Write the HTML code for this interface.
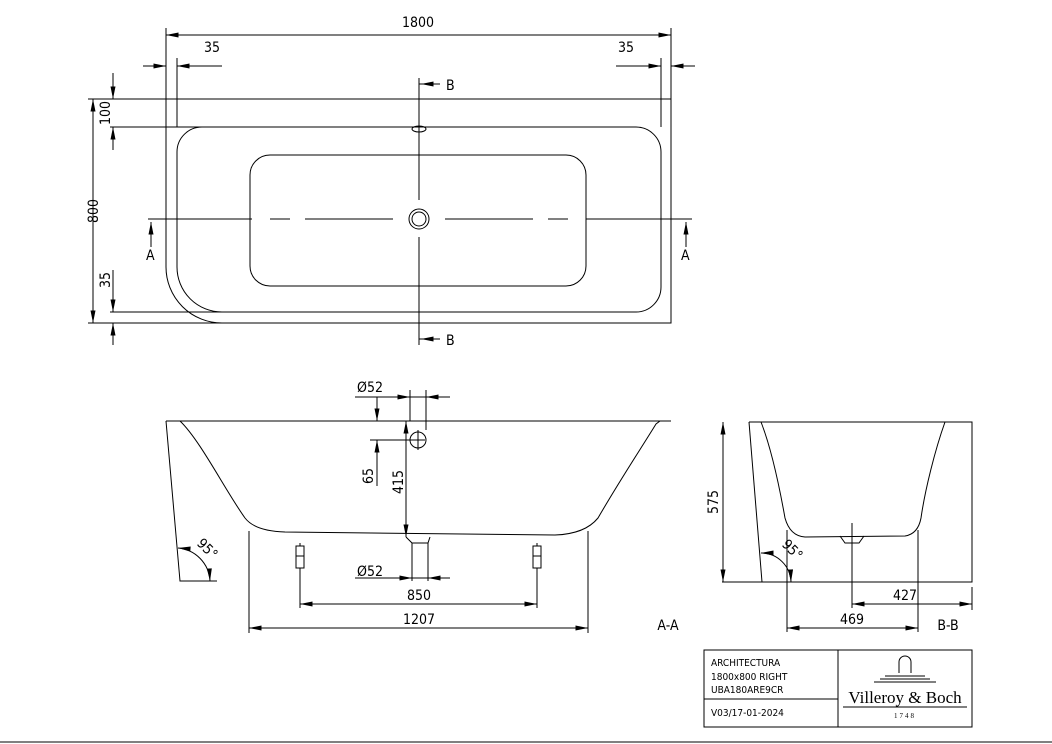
<!DOCTYPE html>
<html><head><meta charset="utf-8"><style>
html,body{margin:0;padding:0;background:#fff}
svg{display:block}
text{font-family:"DejaVu Sans Condensed","Liberation Sans Narrow","Liberation Sans",sans-serif;font-size:14px;fill:#000}
</style></head><body>
<svg width="1052" height="744" viewBox="0 0 1052 744" xmlns="http://www.w3.org/2000/svg">
<defs>
<marker id="a" viewBox="0 0 10 4" refX="10" refY="2" markerWidth="14" markerHeight="5" markerUnits="userSpaceOnUse" orient="auto-start-reverse"><path d="M0,0L10,2L0,4z" fill="#000"/></marker>
</defs>
<g stroke="#000" stroke-width="1" fill="none">
<!-- TOP VIEW -->
<path d="M166,99 H671 V323 H222 A56,56 0 0 1 166,267 Z"/>
<path d="M202,127 H636 A25,25 0 0 1 661,152 V287 A25,25 0 0 1 636,312 H222 A45,45 0 0 1 177,267 V152 A25,25 0 0 1 202,127 Z"/>
<rect x="250" y="155" width="336" height="131" rx="20"/>
<circle cx="419" cy="219" r="10"/><circle cx="419" cy="219" r="7"/>
<ellipse cx="419" cy="129" rx="7" ry="3"/>
<path d="M148,219 H252 M270,219 H290 M305,219 H393 M445,219 H533 M548,219 H568 M586,219 H692"/>
<path d="M419,78 V200 M419,237 V345"/>
<path d="M419,84 H440 M419,339 H440"/>
<path d="M437,84 H421" marker-end="url(#a)"/><path d="M437,339 H421" marker-end="url(#a)"/>
<path d="M151,247 V222" marker-end="url(#a)"/><path d="M686,247 V222" marker-end="url(#a)"/>
<!-- 1800 -->
<path d="M166,28 V99 M671,28 V99"/>
<path d="M166,35 H671" marker-start="url(#a)" marker-end="url(#a)"/>
<!-- 35s -->
<path d="M177,58 V127 M661,58 V127"/>
<path d="M143,66 H166" marker-end="url(#a)"/>
<path d="M222,66 H177" marker-end="url(#a)"/>
<path d="M616,66 H661" marker-end="url(#a)"/>
<path d="M695,66 H671" marker-end="url(#a)"/>
<!-- left dims -->
<path d="M88,99 H166 M110,127 H202 M110,312 H222 M88,323 H222"/>
<path d="M93,99 V323" marker-start="url(#a)" marker-end="url(#a)"/>
<path d="M113,73 V99" marker-end="url(#a)"/><path d="M113,150 V127" marker-end="url(#a)"/>
<path d="M113,270 V312" marker-end="url(#a)"/><path d="M113,345 V323" marker-end="url(#a)"/>

<!-- SECTION A-A -->
<path d="M166,421 H671"/>
<path d="M166,421 L180,581 H217"/>
<path d="M180,421 C200,440 225,490 245,518 Q255,531 285,532 L555,535 Q585,534 598,518 C620,480 640,450 656,424 L660,421"/>
<path d="M406,537 L412,543 V581 M430,537 L428,543 V581 M412,543 H428"/>
<path d="M300,543 V608 M537,543 V608"/>
<rect x="296" y="546" width="8" height="22" fill="#fff"/><rect x="533" y="546" width="8" height="22" fill="#fff"/>
<path d="M296,556 H304 M533,556 H541"/>
<path d="M249,531 V633 M588,531 V633"/>
<path d="M300,604 H537" marker-start="url(#a)" marker-end="url(#a)"/>
<path d="M249,628 H588" marker-start="url(#a)" marker-end="url(#a)"/>
<!-- Ø52 top -->
<path d="M355,397 H450 M410,390 V421 M426,390 V430"/>
<path d="M395,397 H410" marker-end="url(#a)"/><path d="M440,397 H426" marker-end="url(#a)"/>
<circle cx="418" cy="440" r="8"/><path d="M405,440 H425 M418,430 V450"/>
<path d="M377,397 V421" marker-end="url(#a)"/>
<path d="M370,440 H405"/>
<path d="M377,486 V440" marker-end="url(#a)"/>
<path d="M406,421 V537" marker-start="url(#a)" marker-end="url(#a)"/>
<!-- Ø52 bottom -->
<path d="M355,578 H450"/>
<path d="M395,578 H412" marker-end="url(#a)"/><path d="M440,578 H428" marker-end="url(#a)"/>
<!-- 95 A -->
<path d="M178,548 A35,35 0 0 1 210,581" marker-start="url(#a)" marker-end="url(#a)"/>

<!-- SECTION B-B -->
<path d="M749,422 H972 V582 H722"/>
<path d="M749,422 L762,582"/>
<path d="M761,422 C772,450 780,490 785,518 Q790,536 805,537 L905,536 Q918,534 921,518 C925,490 935,450 945,422"/>
<path d="M840,536 L845,543 H859 L864,536"/>
<path d="M852,523 V608"/>
<path d="M723,422 V582" marker-start="url(#a)" marker-end="url(#a)"/>
<path d="M972,587 V610 M787,530 V632 M918,530 V632"/>
<path d="M852,604 H972" marker-start="url(#a)" marker-end="url(#a)"/>
<path d="M787,628 H918" marker-start="url(#a)" marker-end="url(#a)"/>
<path d="M761,553 A30,30 0 0 1 791,582" marker-start="url(#a)" marker-end="url(#a)"/>

<!-- title block -->
<rect x="704" y="650" width="268" height="77"/>
<path d="M838,650 V727 M704,699 H838"/>
<path d="M899,673 V662 A6,6 0 0 1 911,662 V673 M885,676 H925 M880,679 H930 M874,682 H936"/>
<path d="M843,707 H967"/>
<path d="M0,742 H1052"/>
</g>
<g>
<text x="418" y="27" text-anchor="middle">1800</text>
<text x="212" y="52" text-anchor="middle">35</text>
<text x="626" y="52" text-anchor="middle">35</text>
<text x="446" y="90" font-size="16">B</text>
<text x="446" y="345" font-size="16">B</text>
<text x="146" y="260" font-size="16">A</text>
<text x="681" y="260" font-size="16">A</text>
<text transform="translate(98,211) rotate(-90)" text-anchor="middle">800</text>
<text transform="translate(110,113) rotate(-90)" text-anchor="middle">100</text>
<text transform="translate(110,280) rotate(-90)" text-anchor="middle">35</text>
<text x="370" y="392" text-anchor="middle">Ø52</text>
<text transform="translate(373,476) rotate(-90)" text-anchor="middle">65</text>
<text transform="translate(403,482) rotate(-90)" text-anchor="middle">415</text>
<text x="370" y="576" text-anchor="middle">Ø52</text>
<text x="419" y="600" text-anchor="middle">850</text>
<text x="419" y="624" text-anchor="middle">1207</text>
<text transform="translate(204,552) rotate(45)" text-anchor="middle" font-size="13">95°</text>
<text x="668" y="630" text-anchor="middle" font-size="16">A-A</text>
<text transform="translate(718,502) rotate(-90)" text-anchor="middle">575</text>
<text x="905" y="600" text-anchor="middle">427</text>
<text x="852" y="624" text-anchor="middle">469</text>
<text transform="translate(789,553) rotate(45)" text-anchor="middle" font-size="13">95°</text>
<text x="948" y="630" text-anchor="middle" font-size="16">B-B</text>
<g style="font-family:'Liberation Sans',sans-serif;font-size:10px">
<text x="711" y="666" style="font-size:10px">ARCHITECTURA</text>
<text x="711" y="680" style="font-size:10px">1800x800 RIGHT</text>
<text x="711" y="693" style="font-size:10px">UBA180ARE9CR</text>
<text x="711" y="716" style="font-size:10px">V03/17-01-2024</text>
</g>
<text x="905" y="703" text-anchor="middle" style="font-family:'Liberation Serif',serif;font-size:17px">Villeroy &amp; Boch</text>
<text x="905" y="718" text-anchor="middle" style="font-family:'Liberation Serif',serif;font-size:7px;letter-spacing:2px">1748</text>
</g>
</svg>
</body></html>
